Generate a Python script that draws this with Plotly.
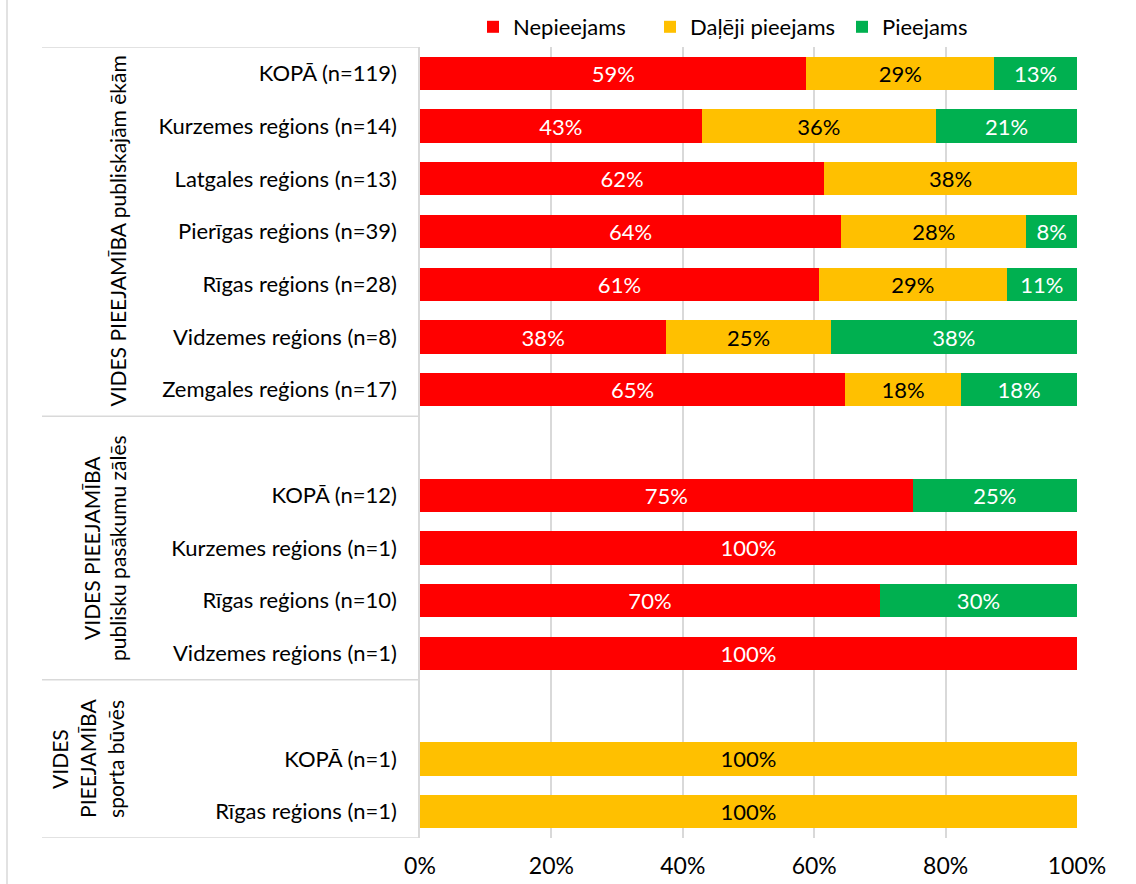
import plotly.graph_objects as go

# Row labels (empty strings are spacer rows between the three sections)
categories = [
    "KOPĀ (n=119)", "Kurzemes reģions (n=14)", "Latgales reģions (n=13)",
    "Pierīgas reģions (n=39)", "Rīgas reģions (n=28)", "Vidzemes reģions (n=8)",
    "Zemgales reģions (n=17)",
    "",
    "KOPĀ (n=12)", "Kurzemes reģions (n=1)", "Rīgas reģions (n=10)",
    "Vidzemes reģions (n=1)",
    "",
    "KOPĀ (n=1)", "Rīgas reģions (n=1)",
]

# Number of objects in each accessibility class per row
nepieejams = [70, 6, 8, 25, 17, 3, 11, None, 9, 1, 7, 1, None, 0, 0]
daleji_pieejams = [34, 5, 5, 11, 8, 2, 3, None, 0, 0, 0, 0, None, 1, 1]
pieejams = [15, 3, 0, 3, 3, 3, 3, None, 3, 0, 3, 0, None, 0, 0]

series_names = ["Nepieejams", "Daļēji pieejams", "Pieejams"]
series_colors = ["#FF0000", "#FFC000", "#00B050"]
text_colors = ["#FFFFFF", "#000000", "#FFFFFF"]

# Section titles, one list of text lines per section
section_lines = [
    ["VIDES PIEEJAMĪBA publiskajām ēkām"],
    ["VIDES PIEEJAMĪBA", "publisku pasākumu zālēs"],
    ["VIDES", "PIEEJAMĪBA", "sporta būvēs"],
]
section_bounds = [(-0.5, 6.5), (6.5, 11.5), (11.5, 14.5)]

x_ticks = [0, 20, 40, 60, 80, 100]
x_tick_labels = ["0%", "20%", "40%", "60%", "80%", "100%"]

FONT = "Lato, 'Open Sans', sans-serif"
GRID = "#D9D9D9"
FS = 22

rows = list(range(len(categories)))
totals = [
    None if a is None else a + b + c
    for a, b, c in zip(nepieejams, daleji_pieejams, pieejams)
]

# Plot area in pixels: x 420..1077, y 47..838
W, H = 1136, 884
L, R, T, B = 420, 1077, 47, 838


def px_x(px):
    return (px - L) / (R - L)


def px_y(py):
    return (B - py) / (B - T)


# Each series gets its own one-entry legend so the entries can be spaced freely
legend_ids = ["legend", "legend2", "legend3"]
legend_px = [473, 650, 842]

fig = go.Figure()
for name, counts, color, tcolor, lid in zip(
    series_names, [nepieejams, daleji_pieejams, pieejams], series_colors,
    text_colors, legend_ids
):
    shares = [None if c is None else 100.0 * c / t for c, t in zip(counts, totals)]
    labels = ["" if s is None or s == 0 else f"{s:.0f}%" for s in shares]
    fig.add_trace(go.Bar(
        y=rows, x=shares, name=name, orientation="h", legend=lid,
        marker=dict(color=color, line=dict(width=0)),
        text=labels, textposition="inside", insidetextanchor="middle",
        textangle=0,
        textfont=dict(family=FONT, size=FS, color=tcolor),
        hovertemplate="%{x:.1f}%<extra>" + name + "</extra>",
    ))

shapes = []
# Section separators spanning the label column
for y in [section_bounds[0][0]] + [b[1] for b in section_bounds]:
    shapes.append(dict(type="line", xref="paper", yref="y",
                       x0=px_x(42), x1=0, y0=y, y1=y,
                       line=dict(color=GRID, width=1.5)))
# Outer left border
shapes.append(dict(type="line", xref="paper", yref="paper",
                   x0=px_x(7), x1=px_x(7), y0=px_y(H), y1=px_y(0),
                   line=dict(color=GRID, width=1.5)))

annotations = []
line_x = {1: [118], 2: [92, 118], 3: [60, 88, 116]}
for lines, (y0, y1) in zip(section_lines, section_bounds):
    for txt, xp in zip(lines, line_x[len(lines)]):
        annotations.append(dict(
            text=txt, xref="paper", yref="y", x=px_x(xp), y=(y0 + y1) / 2,
            textangle=-90, showarrow=False, xanchor="center", yanchor="middle",
            font=dict(family=FONT, size=21, color="#000000"),
        ))

legend_layout = {
    lid: dict(orientation="h", x=px_x(xp), xanchor="left",
              y=px_y(6), yanchor="top", bgcolor="rgba(0,0,0,0)",
              font=dict(family=FONT, size=FS, color="#000000"))
    for lid, xp in zip(legend_ids, legend_px)
}

fig.update_layout(
    width=W, height=H,
    margin=dict(l=L, r=W - R, t=T, b=H - B, autoexpand=False),
    barmode="stack", bargap=0.37,
    plot_bgcolor="white", paper_bgcolor="white",
    font=dict(family=FONT, size=FS, color="#000000"),
    showlegend=True,
    xaxis=dict(range=[0, 100], tickvals=x_ticks, ticktext=x_tick_labels,
               showgrid=True, gridcolor=GRID, gridwidth=1.5,
               zeroline=False, showline=False, ticks="",
               ticklabelstandoff=12,
               tickfont=dict(family=FONT, size=23, color="#000000"),
               fixedrange=True),
    yaxis=dict(range=[len(categories) - 0.5, -0.5], tickvals=rows,
               ticktext=categories, showgrid=False, zeroline=False,
               showline=True, linecolor=GRID, linewidth=1.5, ticks="",
               ticklabelstandoff=17,
               tickfont=dict(family=FONT, size=FS, color="#000000"),
               fixedrange=True),
    shapes=shapes, annotations=annotations,
    **legend_layout,
)

fig.write_html("out.html")
